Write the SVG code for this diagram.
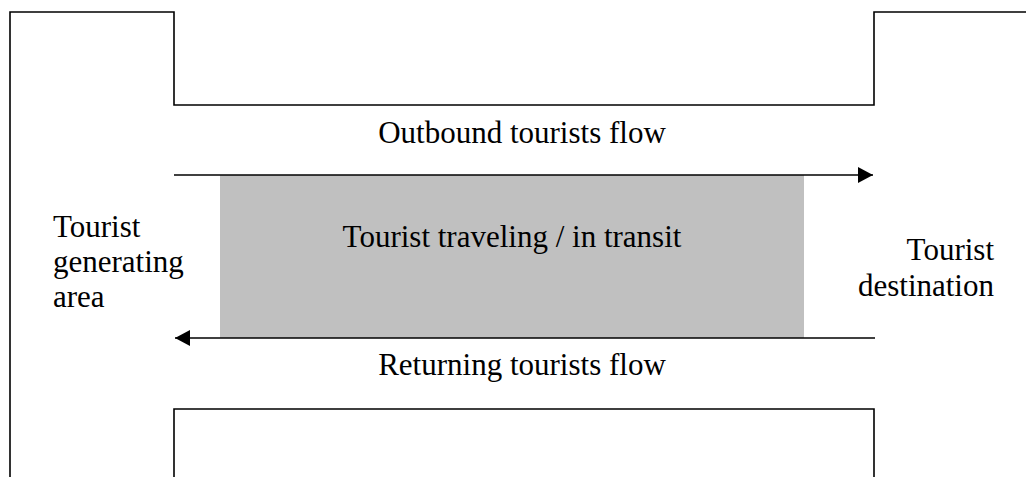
<svg xmlns="http://www.w3.org/2000/svg" width="1026" height="477" viewBox="0 0 1026 477">
<defs>
<style>
.ln{fill:none;stroke:#000;stroke-width:1.6}
.t{font-family:"Liberation Serif","Times New Roman",serif;font-size:31px;fill:#000}
</style>
<marker id="ah" markerUnits="userSpaceOnUse" markerWidth="16" markerHeight="16" refX="15" refY="8" orient="auto">
<path d="M0,0 L15,8 L0,16 Z" fill="#000"/>
</marker>
</defs>
<rect width="1026" height="477" fill="#fff"/>
<g id="frame-top">
<polyline class="ln" points="10,477 10,12 174,12 174,105 874,105 874,12 1026,12"/>
</g>
<g id="frame-bottom">
<polyline class="ln" points="174,477 174,409 874,409 874,477"/>
</g>
<g id="transit">
<rect x="220" y="175" width="584" height="163" fill="#c0c0c0"/>
<text class="t" x="512" y="247" text-anchor="middle">Tourist traveling / in transit</text>
</g>
<g id="connectors">
<line class="ln" x1="174" y1="175" x2="873" y2="175" marker-end="url(#ah)"/>
<line class="ln" x1="875" y1="338" x2="175" y2="338" marker-end="url(#ah)"/>
</g>
<g id="outbound-label"><text class="t" x="522" y="143" text-anchor="middle">Outbound tourists flow</text></g>
<g id="returning-label"><text class="t" x="522" y="375" text-anchor="middle">Returning tourists flow</text></g>
<g id="generating">
<text class="t" x="53" y="237">Tourist</text>
<text class="t" x="53" y="272">generating</text>
<text class="t" x="53" y="307">area</text>
</g>
<g id="destination">
<text class="t" x="994" y="260" text-anchor="end">Tourist</text>
<text class="t" x="994" y="296" text-anchor="end">destination</text>
</g>
</svg>
